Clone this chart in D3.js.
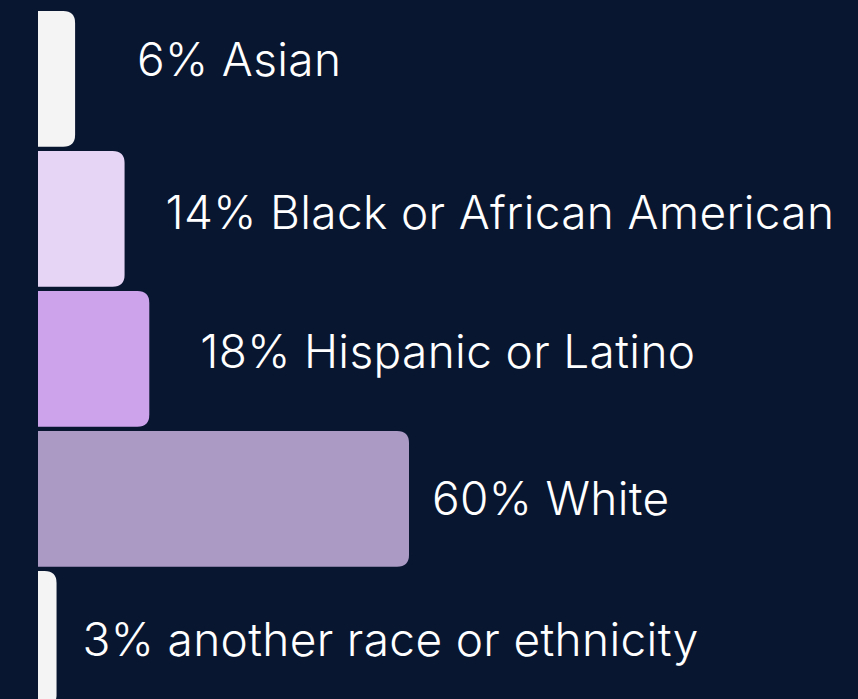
<!DOCTYPE html>
<html>
<head>
<meta charset="utf-8">
<script src="https://cdn.jsdelivr.net/npm/d3@7"></script>
<style>
  html, body { margin: 0; padding: 0; background: #091630; }
  svg { display: block; }
</style>
</head>
<body>
<svg id="chart"></svg>
<script>
// data
var categories = ["Asian", "Black or African American", "Hispanic or Latino", "White", "another race or ethnicity"];
var shares = [6, 14, 18, 60, 3];
var barColors = ["#f4f4f4", "#e7d5f5", "#cda4ec", "#ab9ac4", "#f4f4f4"];

var width = 858, height = 699;
var svg = d3.select("#chart").attr("width", width).attr("height", height);

svg.append("rect").attr("width", width).attr("height", height).attr("fill", "#091630");

// x: percent -> px, bars start at 38
var x = d3.scaleLinear().domain([0, 60]).range([38, 409]);
var y = d3.scaleBand().domain(categories).range([11, 706.8]).paddingInner(0.03).paddingOuter(0);

// label placement per row (gap after bar end, baseline shift from bar middle)
var labelGap = [62, 41, 51, 23, 26];
var labelShift = [-3, 10, 9, 16, 17];

var rows = categories.map((c, i) => ({cat: c, val: shares[i], color: barColors[i], i: i}));

function barPath(d) {
  var x0 = x(0), x1 = x(d.val), y0 = y(d.cat), h = y.bandwidth();
  var r = Math.min(12, x1 - x0, h / 2);
  return "M" + x0 + "," + y0 +
    "H" + (x1 - r) +
    "Q" + x1 + "," + y0 + " " + x1 + "," + (y0 + r) +
    "V" + (y0 + h - r) +
    "Q" + x1 + "," + (y0 + h) + " " + (x1 - r) + "," + (y0 + h) +
    "H" + x0 + "Z";
}

svg.selectAll(".bar")
    .data(rows)
  .enter().append("path")
    .classed("bar", true)
    .attr("d", barPath)
    .attr("fill", d => d.color);

svg.selectAll(".label")
    .data(rows)
  .enter().append("text")
    .classed("label", true)
    .attr("x", d => x(d.val) + labelGap[d.i])
    .attr("y", d => y(d.cat) + y.bandwidth() / 2 + labelShift[d.i])
    .attr("fill", "#ffffff")
    .attr("font-family", "Inter, 'Noto Sans', sans-serif")
    .attr("font-weight", 350)
    .attr("font-size", 46)
    .attr("letter-spacing", "0.35px")
    .text(d => d.val + "% " + d.cat);
</script>
</body>
</html>
